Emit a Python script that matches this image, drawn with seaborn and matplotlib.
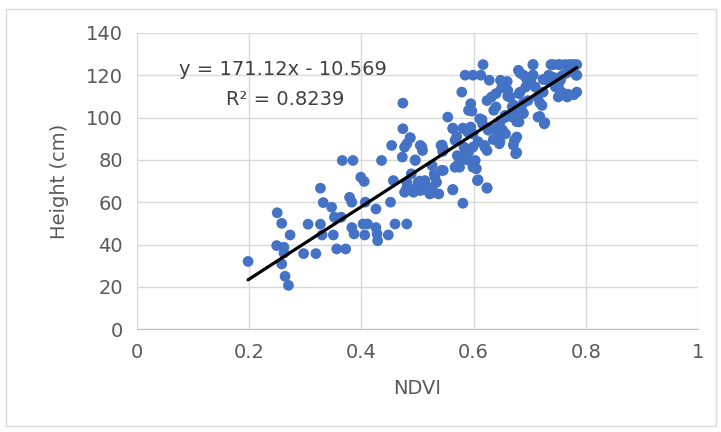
import matplotlib.pyplot as plt
import matplotlib.patches as mpatches
import numpy as np
import pandas as pd
import seaborn as sns

ndvi = [0.198, 0.25, 0.258, 0.273, 0.249, 0.262, 0.262, 0.258, 0.264, 0.270,
        0.297, 0.305, 0.319, 0.327, 0.332, 0.327, 0.33, 0.347, 0.35, 0.352,
        0.356, 0.366, 0.385, 0.372, 0.364, 0.379, 0.383, 0.383, 0.387, 0.399,
        0.405, 0.407, 0.403, 0.411, 0.406, 0.426, 0.426, 0.428, 0.429, 0.436,
        0.448, 0.454, 0.452, 0.457, 0.46, 0.473, 0.474, 0.474, 0.477, 0.481,
        0.481, 0.487, 0.477, 0.481, 0.489, 0.496, 0.493, 0.501, 0.505, 0.509,
        0.505, 0.513, 0.522, 0.526, 0.530, 0.534, 0.538, 0.542, 0.546, 0.546,
        0.554, 0.563, 0.563, 0.567, 0.571, 0.567, 0.575, 0.581, 0.579, 0.585,
        0.599, 0.613, 0.617, 0.595, 0.591, 0.583, 0.595, 0.599, 0.583, 0.591,
        0.599, 0.603, 0.599, 0.605, 0.607, 0.624, 0.611, 0.616, 0.62, 0.624,
        0.624, 0.628, 0.632, 0.636, 0.640, 0.640, 0.636, 0.644, 0.646, 0.648,
        0.652, 0.648, 0.657, 0.661, 0.665, 0.669, 0.669, 0.673, 0.675, 0.677,
        0.680, 0.681, 0.685, 0.681, 0.688, 0.689, 0.693, 0.697, 0.702, 0.706,
        0.706, 0.710, 0.714, 0.715, 0.722, 0.726, 0.730, 0.734, 0.738, 0.742,
        0.746, 0.751, 0.751, 0.763, 0.775, 0.779, 0.767, 0.779, 0.783, 0.759,
        0.755,
        0.597, 0.487, 0.508, 0.544, 0.545, 0.496, 0.563, 0.581, 0.59, 0.570,
        0.608, 0.62, 0.635, 0.647, 0.626, 0.615, 0.647, 0.656, 0.579, 0.572,
        0.599, 0.588, 0.608, 0.624, 0.563, 0.543, 0.531, 0.526, 0.504, 0.51,
        0.492, 0.481, 0.528,
        0.706, 0.742, 0.754, 0.770, 0.784, 0.683, 0.706, 0.695, 0.66, 0.65,
        0.724, 0.754, 0.766, 0.784, 0.757, 0.768, 0.784, 0.751, 0.724, 0.718,
        0.683, 0.689, 0.671, 0.661, 0.674, 0.689, 0.677, 0.656, 0.718, 0.727,
        0.652, 0.674, 0.671, 0.677]
height = [32, 55, 50, 44.5, 39.5, 38.7, 36, 30.8, 25, 20.7,
          35.7, 49.6, 35.7, 66.6, 59.8, 49.6, 44.5, 57.6, 44.5, 52.9,
          37.9, 79.7, 79.7, 37.9, 52.9, 62.3, 60, 48, 45, 71.8,
          69.8, 60, 49.7, 49.7, 44.5, 56.8, 48, 45, 41.8, 79.7,
          44.5, 86.8, 60, 70.2, 49.7, 81.3, 106.8, 94.7, 86, 49.7,
          87.6, 90.3, 64.7, 69.4, 73.4, 79.7, 64.7, 69.4, 86.8, 84.4,
          65.5, 70.2, 63.9, 77.3, 73.4, 69.4, 63.9, 86.8, 75, 85.2,
          100.2, 65.8, 94.7, 89.2, 82, 76.5, 76.5, 59.5, 112, 120,
          120, 120, 125, 106.5, 103.4, 94.7, 95.5, 92.3, 86, 83.6,
          86, 79.7, 76.5, 75.8, 70.2, 66.6, 99.4, 97, 86.8, 84.4,
          108, 117.6, 109.7, 103.4, 111.3, 105, 94.7, 91.5, 87.6, 117.6,
          116, 98.6, 92.3, 112.8, 109.7, 105, 100.2, 89.2, 82.9, 90.8,
          122.3, 111.3, 105, 97.9, 101.8, 120, 114.4, 108, 117.6, 125,
          120, 114.4, 109.7, 100.2, 105.7, 97, 117.6, 120, 125, 119,
          114.4, 109.7, 125, 125, 125, 125, 109.7, 110.8, 120, 120,
          117.6,
          103, 90.5, 86, 87, 84, 80, 95, 95, 93, 91,
          88.6, 86, 89.6, 88.6, 94, 99, 97.6, 101, 81.5, 77.7,
          77.7, 80, 70.6, 66.8, 66, 75, 72, 67, 70, 66,
          66, 66.8, 64.5,
          125, 125, 125, 125, 125, 121, 120, 118, 117, 114,
          118, 119, 121, 120, 112, 111, 112, 115, 112, 107,
          112, 107, 106, 110, 103, 102, 98, 100, 100.5, 97.6,
          94, 89.6, 87, 83.4]

# trendline from the chart's equation
slope = 171.12
intercept = -10.569
eq_text = "y = 171.12x - 10.569"
r2_text = "R² = 0.8239"

xticks = [0, 0.2, 0.4, 0.6, 0.8, 1]
xticklabels = ["0", "0.2", "0.4", "0.6", "0.8", "1"]
yticks = [0, 20, 40, 60, 80, 100, 120, 140]

df = pd.DataFrame({"NDVI": ndvi, "Height": height})
x_line = np.array([min(ndvi), max(ndvi)])
line_df = pd.DataFrame({"x": x_line, "y": slope * x_line + intercept})

sns.set_style("white")
plt.rcParams['font.family'] = ['Liberation Sans Narrow', 'DejaVu Sans']

fig = plt.figure(figsize=(7.21, 4.32), dpi=100)
ax = fig.add_axes([0.19, 0.238, 0.778, 0.686])

sns.scatterplot(data=df, x="NDVI", y="Height", color="#4472C4", s=60,
                edgecolor="none", ax=ax, zorder=3)
sns.lineplot(data=line_df, x="x", y="y", color="black", linewidth=2.3, ax=ax, zorder=4)

ax.set_xlim(0, 1)
ax.set_ylim(0, 140)
ax.set_xticks(xticks)
ax.set_xticklabels(xticklabels)
ax.set_yticks(yticks)
ax.grid(True, color="#d9d9d9", linewidth=1)
ax.set_axisbelow(True)
for side in ["top", "right", "left"]:
    ax.spines[side].set_visible(False)
ax.spines["bottom"].set_color("#bfbfbf")
ax.tick_params(axis="both", length=0, labelsize=14, labelcolor="#595959", pad=10)
ax.set_xlabel("NDVI", fontsize=14, color="#595959", labelpad=12)
ax.set_ylabel("Height (cm)", fontsize=14, color="#595959", labelpad=12)

ax.text(0.26, 122.5, eq_text, fontsize=14, color="#404040", ha="center", va="center")
ax.text(0.265, 108.5, r2_text, fontsize=14, color="#404040", ha="center", va="center")

fig.patches.append(mpatches.Rectangle((0.008, 0.015), 0.985, 0.965, transform=fig.transFigure,
                                      fill=False, edgecolor="#d9d9d9", linewidth=1))

plt.savefig("out.png", dpi=100)
